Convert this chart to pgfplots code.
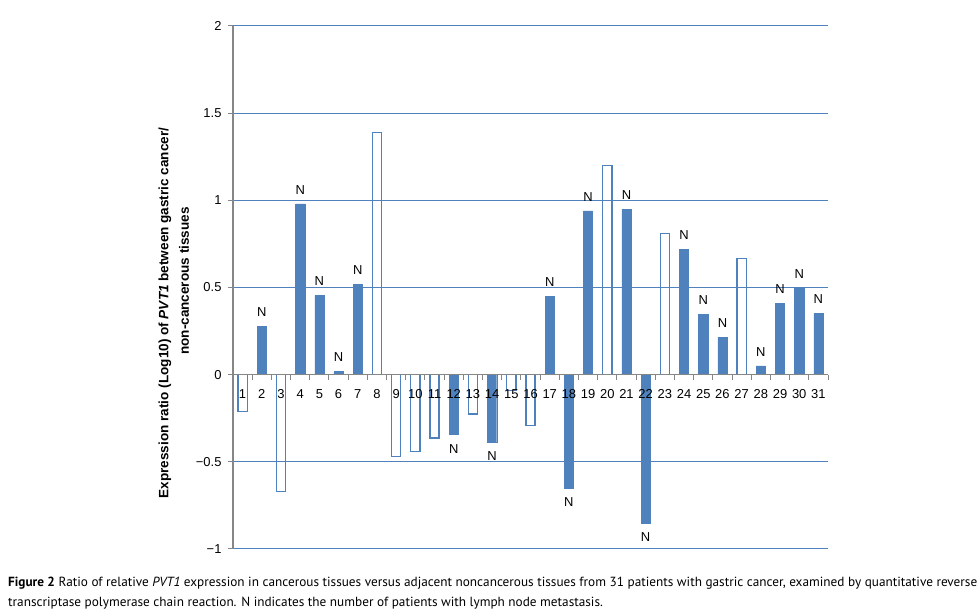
\documentclass[border=0pt]{standalone}
\usepackage{pgfplots}
\pgfplotsset{compat=1.18}
\usepackage{fontspec}
\setmainfont{Liberation Sans}
\newfontfamily\capfont{PT Sans}
\definecolor{barblue}{RGB}{79,129,189}
\definecolor{gridblue}{RGB}{79,129,189}
\definecolor{axisgray}{RGB}{134,134,134}
\pgfplotsset{
  common/.style={
    at={(233bp,63bp)}, anchor=south west,
    scale only axis, width=595bp, height=523bp,
    xmin=0.5, xmax=31.5, ymin=-1, ymax=2,
    clip=false,
  }
}
\begin{document}
\begin{tikzpicture}[x=1bp,y=1bp]
\useasboundingbox (0,0) rectangle (980,612);
% bars and grid
\begin{axis}[
  common,
  axis line style={draw=none},
  xtick=\empty,
  ytick={-1,-0.5,0,0.5,1,1.5,2},
  yticklabels={},
  major tick length=0pt,
  ymajorgrids, grid style={draw=gridblue, line width=1bp},
  ybar, bar width=0.48, bar shift=0pt,
]
\addplot[fill=barblue, draw=barblue,
  nodes near coords={N},
  nodes near coords style={font=\fontsize{13}{15}\selectfont, inner ysep=9.5bp, text=black}]
coordinates {
(2,0.277) (4,0.98) (5,0.455) (6,0.017) (7,0.52) (12,-0.344) (14,-0.388)
(17,0.45) (18,-0.65) (19,0.94) (21,0.95) (22,-0.85) (24,0.72) (25,0.345)
(26,0.215) (28,0.05) (29,0.41) (30,0.495) (31,0.35)
};
\addplot[fill=none, draw=barblue, line width=1.3bp]
coordinates {
(1,-0.21) (3,-0.672) (8,1.39) (9,-0.47) (10,-0.44) (11,-0.363) (13,-0.225)
(15,-0.09) (16,-0.292) (20,1.20) (23,0.81) (27,0.665)
};
\end{axis}
% axis lines, ticks and tick labels on top
\begin{axis}[
  common,
  axis x line=middle, axis y line=left,
  axis line style={-, draw=axisgray, line width=1.6bp},
  xtick={1,2,...,31},
  minor xtick={0.5,1.5,...,31.5},
  major x tick style={draw=none},
  minor x tick style={draw=axisgray, line width=1bp},
  minor tick length=5bp,
  tick align=outside,
  /pgf/number format/assume math mode=true,
  xticklabel style={font=\fontsize{13}{15}\selectfont, yshift=-6bp},
  ytick={-1,-0.5,0,0.5,1,1.5,2},
  yticklabels={−1,−0.5,0,0.5,1,1.5,2},
  yticklabel style={font=\fontsize{13}{15}\selectfont, xshift=-3bp},
  major y tick style={draw=axisgray, line width=1bp},
  major tick length=5bp,
]
\end{axis}
\node[rotate=90, font=\bfseries\fontsize{13.6}{15}\selectfont] at (165,299) {Expression ratio (Log10) of \textit{PVT1} between gastric cancer/};
\node[rotate=90, font=\bfseries\fontsize{13.6}{15}\selectfont] at (184,331) {non-cancerous tissues};
\node[anchor=west, inner sep=0pt, font=\capfont\fontsize{13.3}{15}\selectfont] at (8,29) {\textbf{Figure 2} Ratio of relative \textit{PVT1} expression in cancerous tissues versus adjacent noncancerous tissues from 31 patients with gastric cancer, examined by quantitative reverse};
\node[anchor=west, inner sep=0pt, font=\capfont\fontsize{13.3}{15}\selectfont] at (8,9) {transcriptase polymerase chain reaction. N indicates the number of patients with lymph node metastasis.};
\end{tikzpicture}
\end{document}
